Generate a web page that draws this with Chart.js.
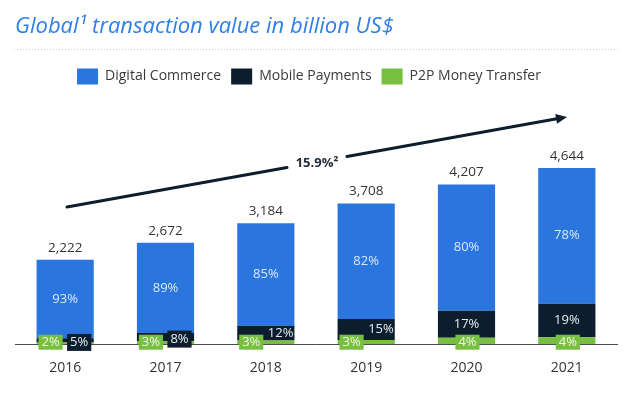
<!DOCTYPE html>
<html>
<head>
<meta charset="utf-8">
<script src="https://cdn.jsdelivr.net/npm/chart.js@4/dist/chart.umd.min.js"></script>
<style>
  html, body { margin: 0; padding: 0; background: #ffffff; }
  #wrap { width: 631px; height: 394px; position: relative; }
</style>
</head>
<body>
<div id="wrap"><canvas id="c" width="631" height="394"></canvas></div>
<script>
// ---- data (billion US$) ----
const years = ['2016', '2017', '2018', '2019', '2020', '2021'];
const totals = [2222, 2672, 3184, 3708, 4207, 4644];
const digitalCommerce = [2067, 2378, 2706, 3041, 3324, 3576];
const mobilePayments = [111, 214, 382, 556, 715, 882];
const p2pTransfer = [44, 80, 96, 111, 168, 186];
const digitalShare = [93, 89, 85, 82, 80, 78];
const mobileShare = [5, 8, 12, 15, 17, 19];
const p2pShare = [2, 3, 3, 3, 4, 4];
const cagrLabel = '15.9%²';

const BLUE = '#2a76de';
const DARK = '#0c1e2e';
const GREEN = '#76bf3f';
const FONT = "'Open Sans', 'Noto Sans', sans-serif";

const fmt = v => v.toLocaleString('en-US');

// shift legend slightly left, as in the reference
const legendShift = {
  id: 'legendShift',
  afterLayout(chart) {
    if (chart.legend) { chart.legend.left -= 7; chart.legend.right -= 7; }
  }
};

// Title rule (dotted line under title)
const titleRule = {
  id: 'titleRule',
  afterDraw(chart) {
    const ctx = chart.ctx;
    ctx.save();
    ctx.strokeStyle = '#c8c8c8';
    ctx.lineWidth = 1;
    ctx.setLineDash([1, 2]);
    ctx.beginPath();
    ctx.moveTo(14, 49.5);
    ctx.lineTo(618, 49.5);
    ctx.stroke();
    ctx.restore();
  }
};

// CAGR arrow annotation
const cagrArrow = {
  id: 'cagrArrow',
  afterDraw(chart) {
    const ctx = chart.ctx;
    const x0 = 67, y0 = 207, x1 = 567, y1 = 117;
    const slope = (y1 - y0) / (x1 - x0);
    const yAt = x => y0 + slope * (x - x0);
    const gapL = 287, gapR = 347;
    ctx.save();
    ctx.strokeStyle = DARK;
    ctx.fillStyle = DARK;
    ctx.lineWidth = 3;
    ctx.lineCap = 'round';
    ctx.beginPath();
    ctx.moveTo(x0, y0);
    ctx.lineTo(gapL, yAt(gapL));
    ctx.moveTo(gapR, yAt(gapR));
    ctx.lineTo(x1 - 6, yAt(x1 - 6));
    ctx.stroke();
    const ang = Math.atan2(y1 - y0, x1 - x0);
    const L = 11, W = 5;
    ctx.beginPath();
    ctx.moveTo(x1, y1);
    ctx.lineTo(x1 - L * Math.cos(ang) + W * Math.sin(ang), y1 - L * Math.sin(ang) - W * Math.cos(ang));
    ctx.lineTo(x1 - L * Math.cos(ang) - W * Math.sin(ang), y1 - L * Math.sin(ang) + W * Math.cos(ang));
    ctx.closePath();
    ctx.fill();
    ctx.font = "bold 13px " + FONT;
    ctx.textAlign = 'center';
    ctx.textBaseline = 'middle';
    ctx.fillStyle = '#1e2a36';
    ctx.fillText(cagrLabel, (gapL + gapR) / 2, yAt((gapL + gapR) / 2) + 1);
    ctx.restore();
  }
};

// Bar labels
const barLabels = {
  id: 'barLabels',
  afterDatasetsDraw(chart) {
    const ctx = chart.ctx;
    const metaG = chart.getDatasetMeta(0);
    const metaM = chart.getDatasetMeta(1);
    const metaD = chart.getDatasetMeta(2);
    ctx.save();
    ctx.textBaseline = 'middle';
    years.forEach((y, i) => {
      const bg = metaG.data[i], bm = metaM.data[i], bd = metaD.data[i];
      const left = bd.x - bd.width / 2, right = bd.x + bd.width / 2;
      ctx.font = "13.5px " + FONT;
      ctx.fillStyle = '#333333';
      ctx.textAlign = 'center';
      ctx.fillText(fmt(totals[i]), bd.x, bd.y - 12);
      ctx.font = "13px " + FONT;
      ctx.fillStyle = '#dbe8fb';
      ctx.fillText(digitalShare[i] + '%', bd.x, (bd.y + bd.base) / 2);
      const mh = bm.base - bm.y;
      const my = (bm.y + bm.base) / 2;
      const mt = mobileShare[i] + '%';
      let mobileCentered = false;
      if (mh < 12) {
        const w = ctx.measureText(mt).width + 6;
        const cx = bm.x + 14;
        ctx.fillStyle = DARK;
        ctx.fillRect(cx - w / 2, my + 2 - 8.5, w, 17);
        ctx.fillStyle = '#e6ebf0';
        ctx.textAlign = 'center';
        ctx.fillText(mt, cx, my + 2);
      } else if (mh < 24) {
        ctx.fillStyle = '#e6ebf0';
        ctx.textAlign = 'right';
        ctx.fillText(mt, right - 1, my);
      } else {
        mobileCentered = true;
        ctx.fillStyle = '#e6ebf0';
        ctx.textAlign = 'center';
        ctx.fillText(mt, bm.x, my);
      }
      const pt = p2pShare[i] + '%';
      const pw = ctx.measureText(pt).width + 6;
      const pcx = mobileCentered ? bg.x + 1 : left + 14;
      const pcy = bg.base - 2;
      ctx.fillStyle = GREEN;
      ctx.fillRect(pcx - pw / 2, pcy - 7.5, pw, 15);
      ctx.fillStyle = '#f1f8ea';
      ctx.textAlign = 'center';
      ctx.fillText(pt, pcx, pcy);
    });
    ctx.restore();
  }
};

new Chart(document.getElementById('c'), {
  type: 'bar',
  data: {
    labels: years,
    datasets: [
      { label: 'P2P Money Transfer', data: p2pTransfer, backgroundColor: GREEN },
      { label: 'Mobile Payments', data: mobilePayments, backgroundColor: DARK },
      { label: 'Digital Commerce', data: digitalCommerce, backgroundColor: BLUE }
    ]
  },
  options: {
    responsive: false,
    animation: false,
    devicePixelRatio: 1,
    layout: { padding: { left: 15, right: 14, top: 0, bottom: 3 } },
    datasets: { bar: { barPercentage: 0.57, categoryPercentage: 1.0, borderWidth: 0 } },
    scales: {
      x: {
        stacked: true,
        grid: { display: false, drawTicks: false },
        border: { display: true, color: '#4a4a4a', width: 1 },
        ticks: { color: '#333333', font: { family: FONT, size: 14 }, padding: 15 }
      },
      y: {
        stacked: true,
        display: false,
        min: 0,
        max: 6580
      }
    },
    plugins: {
      tooltip: { enabled: false },
      title: {
        display: true,
        text: 'Global¹ transaction value in billion US$',
        align: 'start',
        color: '#2f7fe6',
        font: { family: FONT, style: 'italic', size: 22, weight: 'normal' },
        padding: { top: 14, bottom: 18 }
      },
      legend: {
        display: true,
        position: 'top',
        reverse: true,
        labels: {
          boxWidth: 21,
          boxHeight: 16,
          padding: 10,
          color: '#3a3a3a',
          font: { family: FONT, size: 14 }
        }
      }
    }
  },
  plugins: [legendShift, titleRule, cagrArrow, barLabels]
});
</script>
</body>
</html>
